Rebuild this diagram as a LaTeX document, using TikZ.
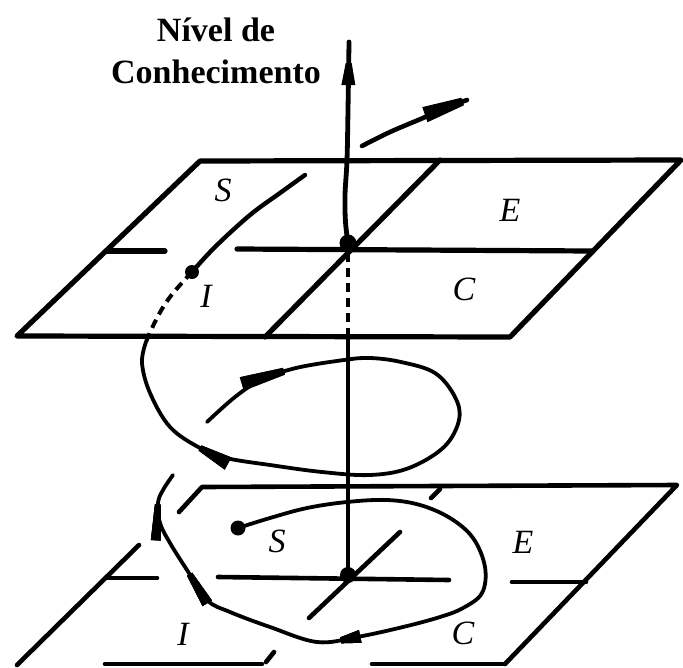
\documentclass[tikz,border=0pt]{standalone}
\usepackage{fontspec}
\setmainfont{Liberation Serif}
\usetikzlibrary{decorations.markings}
\begin{document}
\begin{tikzpicture}[x=1pt,y=-1pt,line cap=round,line join=round,
  edgeT/.style={line width=5.2pt},
  edgeB/.style={line width=4.6pt},
  curve/.style={line width=3.8pt},
  dashline/.style={line width=4.4pt,line cap=butt,dash pattern=on 9pt off 6pt},
  lbl/.style={font=\fontsize{34}{34}\selectfont\itshape,inner sep=0pt},
  ttl/.style={font=\fontsize{34}{34}\selectfont\bfseries,inner sep=0pt,anchor=base},
  dotm/.style={fill=black,draw=none},
  wedgeat/.style n args={4}{postaction={decorate},decoration={markings,
     mark=at position #1 with {\fill[draw=none] (0,#4/2) -- (-#2,#3/2) -- (-#2,-#3/2) -- (0,-#4/2) -- cycle;}}}
]
\useasboundingbox (0,0) rectangle (683,667);

% ---------- title ----------
\node[ttl] (t1) at (216,41) {Nível de};
\node[ttl] (t2) at (216,83) {Conhecimento};

% ---------- top plane ----------
\coordinate (TA) at (200,161);
\coordinate (TB) at (681,160);
\coordinate (TC) at (510,337);
\coordinate (TD) at (17,336);
\draw[edgeT] (TA) -- (TB) -- (TC) -- (TD) -- cycle;
\draw[edgeT] (107,251) -- (165,251);
\draw[edgeT] (237,249) -- (592,251);
\draw[edgeT] (440,160) -- (265,337);

% ---------- bottom plane ----------
\draw[edgeB] (179,512) -- (202,487) -- (677,485) -- (505,664);
\draw[edgeB] (139,545) -- (17,665);
\draw[edgeB] (105,664) -- (262,664);
\draw[edgeB] (372,664) -- (505,664);
\draw[edgeB] (108,578) -- (157,578);
\draw[edgeB] (218,577) -- (449,580);
\draw[edgeB] (512,582) -- (586,582);
\draw[edgeB] (440,489) -- (431,498);
\draw[edgeB] (400,532) -- (309,618);
\draw[edgeB] (274,652) -- (266,662);

% ---------- points ----------
\coordinate (Ptop) at (348,243);
\coordinate (Pi) at (192,272);
\coordinate (Ps) at (238,528);
\coordinate (Pbot) at (348,575);
\coordinate (Aup) at (349,42);

% ---------- vertical axis ----------
\draw[line width=4.2pt] (Pbot) -- (348,337);
\draw[dashline] (348,337) -- (348,251);
\draw[line width=4.8pt,wedgeat={0.895}{22}{14}{6}]
  plot[smooth,tension=0.6] coordinates {(Ptop) (345.5,222) (345,195) (347,160) (348,110) (Aup)};

% ---------- top plane curve ----------
\draw[line width=4.4pt] plot[smooth,tension=0.6] coordinates {(Pi) (215,247) (250,215) (280,193) (305,175)};
\draw[dashline,line width=4pt] plot[smooth,tension=0.7] coordinates {(Pi) (170,297) (156,320) (146,342)};

% ---------- arrow above top plane ----------
\coordinate (Ua) at (362,146);
\coordinate (Ub) at (467,100);
\draw[line width=4.6pt,wedgeat={0.96}{40}{16}{8}]
  plot[smooth,tension=0.6] coordinates {(Ua) (390,132) (423,118) (445,108) (Ub)};

% ---------- middle loop ----------
\draw[curve,wedgeat={0.13}{44}{14}{7}, wedgeat={0.82}{32}{14}{6}]
  plot[smooth,tension=0.6] coordinates {(207,422) (235,397) (261,380) (296,368) (344,360)
   (370,358) (401,362) (435,373) (455,397) (459,420) (444,447) (409,468) (370,475)
   (322,472) (270,465) (226,458) (200,448) (170,427) (150,393) (142,363) (146,342)};

% ---------- bottom spiral ----------
\draw[curve,wedgeat={0.617}{20}{13}{6},wedgeat={0.85}{34}{11}{6},wedgeat={0.955}{36}{10}{6}]
  plot[smooth,tension=0.6] coordinates {(Ps) (270,518) (307,508) (347,502) (387,500)
   (420,505) (450,518) (473,538) (485,567) (482,593) (463,608) (440,617) (403,627)
   (357,637) (317,642) (270,627) (230,612) (207,600) (187,570) (170,543) (160,523)
   (158,503) (163,490) (173,475)};

% ---------- dots ----------
\fill[dotm] (Ptop) circle (8.5);
\fill[dotm] (Pi) circle (7);
\fill[dotm] (Ps) circle (7.5);
\fill[dotm] (Pbot) circle (8);

% ---------- labels ----------
\node[lbl] (s1) at (223,190) {S};
\node[lbl] (e1) at (510,210) {E};
\node[lbl] (i1) at (206,296) {I};
\node[lbl] (c1) at (464,289) {C};
\node[lbl] (s2) at (277,541) {S};
\node[lbl] (e2) at (523,542) {E};
\node[lbl] (i2) at (183,634) {I};
\node[lbl] (c2) at (463,633) {C};
\end{tikzpicture}
\end{document}
